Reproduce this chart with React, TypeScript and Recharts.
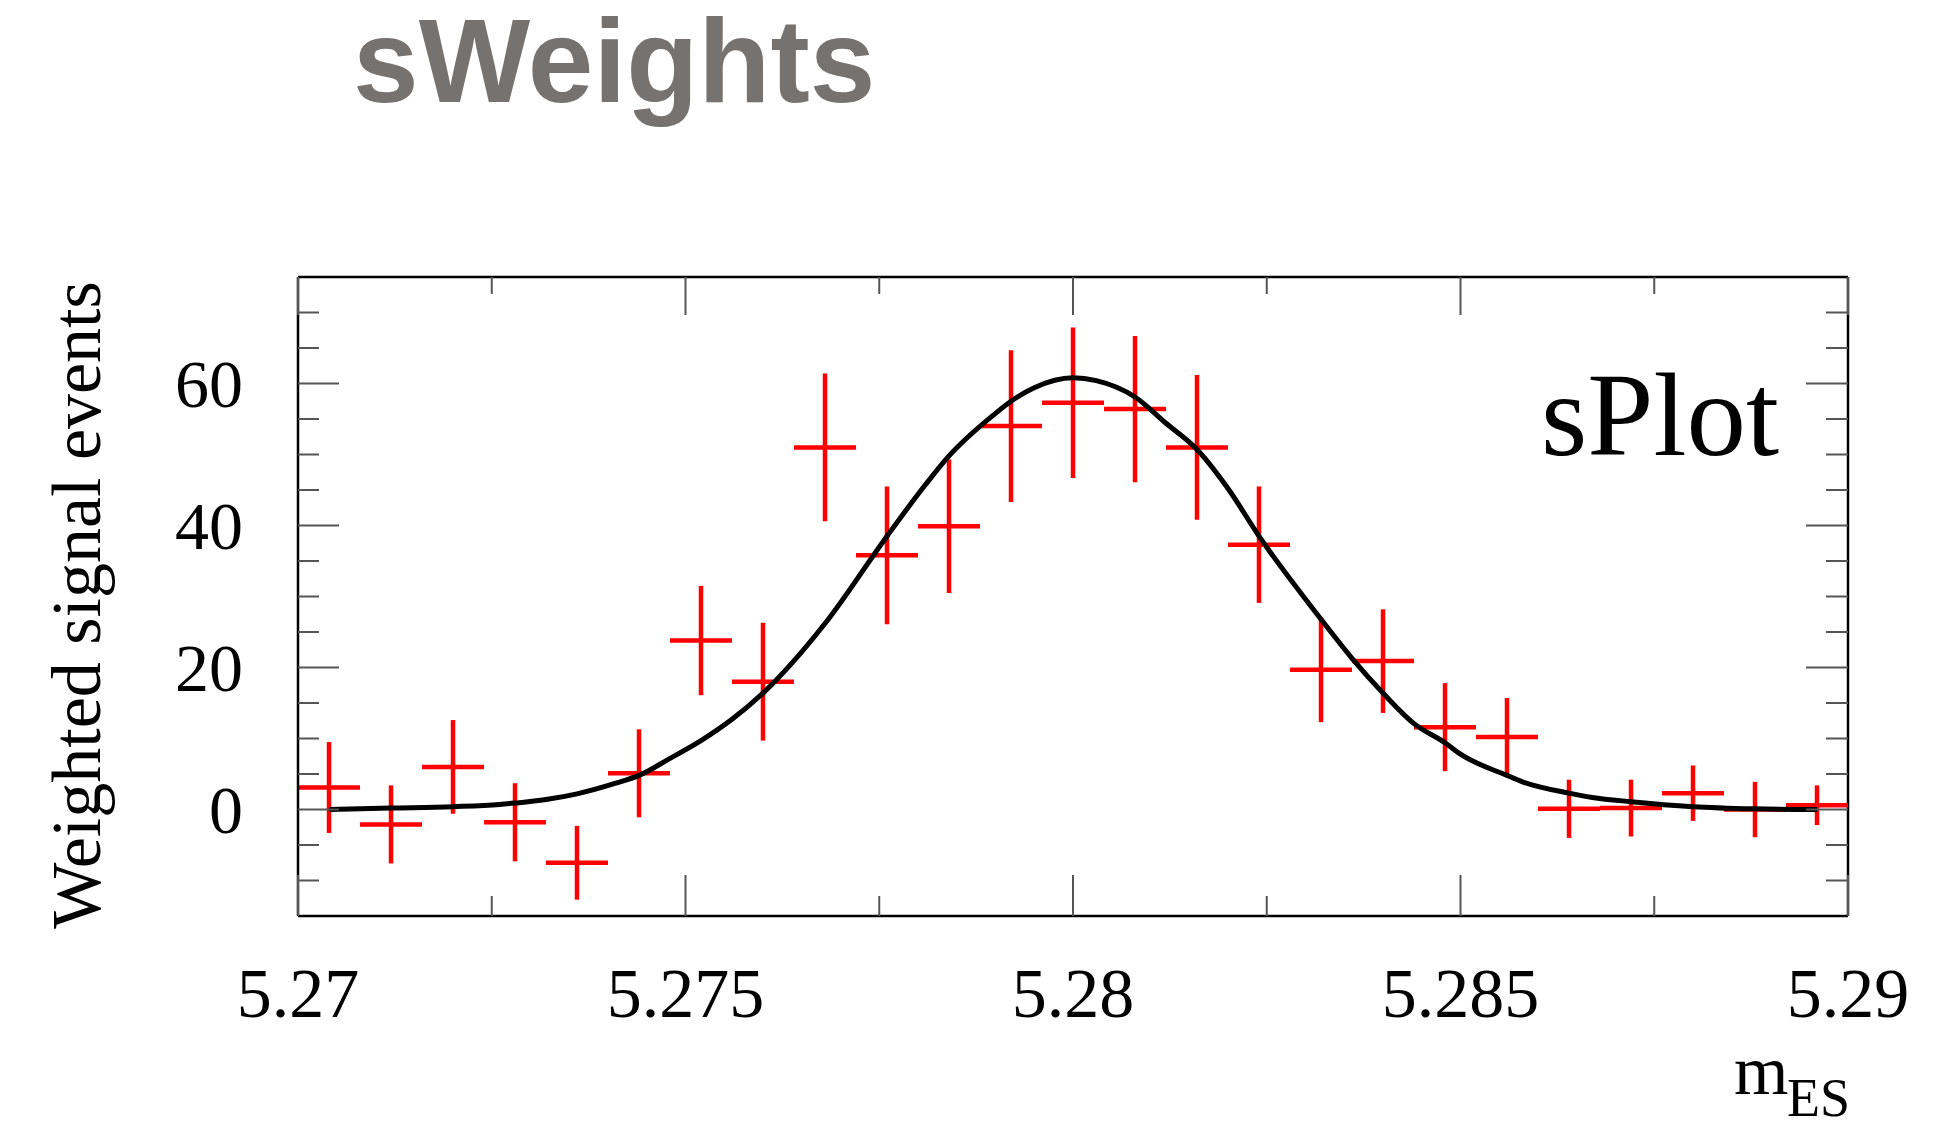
import React from "react";
import {
  ComposedChart,
  Scatter,
  Line,
  XAxis,
  YAxis,
  ErrorBar,
  ReferenceLine,
} from "recharts";

// ---- data ----
const BIN_CENTERS = [
  5.2704, 5.2712, 5.272, 5.2728, 5.2736, 5.2744, 5.2752, 5.276, 5.2768, 5.2776,
  5.2784, 5.2792, 5.28, 5.2808, 5.2816, 5.2824, 5.2832, 5.284, 5.2848, 5.2856,
  5.2864, 5.2872, 5.288, 5.2888, 5.2896,
];
const SIGNAL_VALUES = [
  3.1, -2.1, 6.0, -1.8, -7.5, 5.1, 23.8, 18.0, 51.0, 35.8, 39.9, 54.0, 57.3,
  56.4, 51.0, 37.3, 19.7, 20.9, 11.6, 10.2, 0.1, 0.2, 2.3, 0.0, 0.6,
];
const SIGNAL_ERRORS = [
  6.4, 5.5, 6.6, 5.5, 5.2, 6.2, 7.7, 8.3, 10.4, 9.7, 9.4, 10.7, 10.6, 10.3,
  10.2, 8.2, 7.4, 7.3, 6.2, 5.5, 4.1, 4.0, 3.9, 3.9, 2.8,
];
const HALF_BIN = 0.0004;

const CURVE_X = [
  5.2704, 5.2712, 5.272, 5.2726, 5.2728, 5.2732, 5.2736, 5.2741, 5.2744,
  5.2748, 5.2752, 5.2756, 5.276, 5.2768, 5.2776, 5.2781, 5.2784, 5.279, 5.2792,
  5.2795, 5.28, 5.2803, 5.2808, 5.2812, 5.2816, 5.282, 5.2824, 5.2832, 5.2836,
  5.284, 5.2844, 5.2848, 5.285, 5.2856, 5.2858, 5.2864, 5.2867, 5.2872, 5.288,
  5.2888, 5.2896,
];
const CURVE_Y = [
  0.0, 0.2, 0.4, 0.7, 0.9, 1.4, 2.2, 3.7, 4.8, 7.2, 9.7, 12.7, 16.4, 26.2,
  38.5, 45.8, 49.8, 55.8, 57.5, 59.4, 60.8, 60.4, 58.1, 54.4, 50.7, 45.2, 38.5,
  26.8, 21.3, 16.4, 12.1, 9.4, 7.8, 4.8, 3.9, 2.3, 1.7, 1.1, 0.4, 0.1, 0.0,
];

const X_DOMAIN = [5.27, 5.29];
const Y_DOMAIN = [-15, 75];
const X_TICKS = [5.27, 5.2725, 5.275, 5.2775, 5.28, 5.2825, 5.285, 5.2875, 5.29];
const X_TICK_LABELS: Record<string, string> = {
  "5.27": "5.27",
  "5.275": "5.275",
  "5.28": "5.28",
  "5.285": "5.285",
  "5.29": "5.29",
};
const Y_TICKS = [-10, -5, 0, 5, 10, 15, 20, 25, 30, 35, 40, 45, 50, 55, 60, 65, 70];
const Y_MAJOR_STEP = 20;

const TITLE = "sWeights";
const Y_LABEL = "Weighted signal events";
const X_LABEL_MAIN = "m";
const X_LABEL_SUB = "ES";
const INSET_LABEL = "sPlot";

const points = BIN_CENTERS.map((x, i) => ({
  x,
  y: SIGNAL_VALUES[i],
  ey: SIGNAL_ERRORS[i],
  ex: HALF_BIN,
}));
const curve = CURVE_X.map((x, i) => ({ x, y: CURVE_Y[i] }));

// ---- layout ----
const W = 1937;
const H = 1121;
const PLOT_LEFT = 298;
const PLOT_RIGHT = 1848;
const PLOT_TOP = 277;
const PLOT_BOTTOM = 916;
const TICK_COLOR = "#555";
const SERIF = "'Liberation Serif', 'Times New Roman', serif";

const XTick = (props: any) => {
  const { x, payload } = props;
  const key = String(Number(payload.value.toFixed(4)));
  const label = X_TICK_LABELS[key];
  const major = label !== undefined;
  const lenB = major ? 41 : 20;
  const lenT = major ? 38 : 17;
  return (
    <g>
      <line x1={x} x2={x} y1={PLOT_BOTTOM} y2={PLOT_BOTTOM - lenB} stroke={TICK_COLOR} strokeWidth={2} />
      <line x1={x} x2={x} y1={PLOT_TOP} y2={PLOT_TOP + lenT} stroke={TICK_COLOR} strokeWidth={2} />
      {major && (
        <text x={x} y={PLOT_BOTTOM + 101} textAnchor="middle" fontFamily={SERIF} fontSize={70} fill="#000">
          {label}
        </text>
      )}
    </g>
  );
};

const YTick = (props: any) => {
  const { y, payload } = props;
  const v = payload.value;
  const major = v % Y_MAJOR_STEP === 0;
  const lenL = major ? 41 : 21;
  const lenR = major ? 42 : 22;
  return (
    <g>
      <line x1={PLOT_LEFT} x2={PLOT_LEFT + lenL} y1={y} y2={y} stroke={TICK_COLOR} strokeWidth={2} />
      <line x1={PLOT_RIGHT - lenR} x2={PLOT_RIGHT} y1={y} y2={y} stroke={TICK_COLOR} strokeWidth={2} />
      {major && (
        <text x={243} y={y} dy="0.34em" textAnchor="end" fontFamily={SERIF} fontSize={68} fill="#000">
          {v}
        </text>
      )}
    </g>
  );
};

const NoShape = () => <g />;

export default function App() {
  return (
    <div style={{ position: "absolute", left: 0, top: 0, width: W, height: H, background: "#fff" }}>
      <ComposedChart
        width={W}
        height={H}
        margin={{ top: PLOT_TOP, right: W - PLOT_RIGHT, bottom: 0, left: 0 }}
      >
        <XAxis
          dataKey="x"
          type="number"
          domain={X_DOMAIN}
          ticks={X_TICKS}
          interval={0}
          allowDataOverflow
          height={H - PLOT_BOTTOM}
          tickSize={0}
          tickLine={false}
          axisLine={{ stroke: "#000", strokeWidth: 2.5 }}
          tick={(p: any) => <XTick {...p} />}
        />
        <YAxis
          type="number"
          domain={Y_DOMAIN}
          ticks={Y_TICKS}
          interval={0}
          allowDataOverflow
          width={PLOT_LEFT}
          tickSize={0}
          tickLine={false}
          axisLine={{ stroke: "#000", strokeWidth: 2.5 }}
          tick={(p: any) => <YTick {...p} />}
        />
        <ReferenceLine y={Y_DOMAIN[1]} stroke="#000" strokeWidth={2.5} />
        <ReferenceLine x={X_DOMAIN[1]} stroke="#000" strokeWidth={2.5} />
        <Scatter data={points} dataKey="y" shape={NoShape} isAnimationActive={false}>
          <ErrorBar dataKey="ey" direction="y" width={0} stroke="#ff0000" strokeWidth={4.5} isAnimationActive={false} />
          <ErrorBar dataKey="ex" direction="x" width={0} stroke="#ff0000" strokeWidth={4.5} isAnimationActive={false} />
        </Scatter>
        <Line
          data={curve}
          dataKey="y"
          type="monotone"
          stroke="#000"
          strokeWidth={5}
          dot={false}
          activeDot={false}
          isAnimationActive={false}
        />
      </ComposedChart>
      <svg
        width={W}
        height={H}
        style={{ position: "absolute", left: 0, top: 0, pointerEvents: "none" }}
      >
        <text
          x={353}
          y={102}
          fontFamily="'Liberation Sans', Arial, Helvetica, sans-serif"
          fontWeight="bold"
          fontSize={118}
          fill="#767270"
        >
          {TITLE}
        </text>
        <text x={1541} y={455} fontFamily={SERIF} fontSize={119} fill="#000">
          {INSET_LABEL}
        </text>
        <text
          transform="translate(100,605) rotate(-90)"
          textAnchor="middle"
          fontFamily={SERIF}
          fontSize={70}
          fill="#000"
        >
          {Y_LABEL}
        </text>
        <text x={1734} y={1094} fontFamily={SERIF} fontSize={70} fill="#000">
          {X_LABEL_MAIN}
        </text>
        <text x={1787} y={1116} fontFamily={SERIF} fontSize={54} fill="#000">
          {X_LABEL_SUB}
        </text>
      </svg>
    </div>
  );
}
